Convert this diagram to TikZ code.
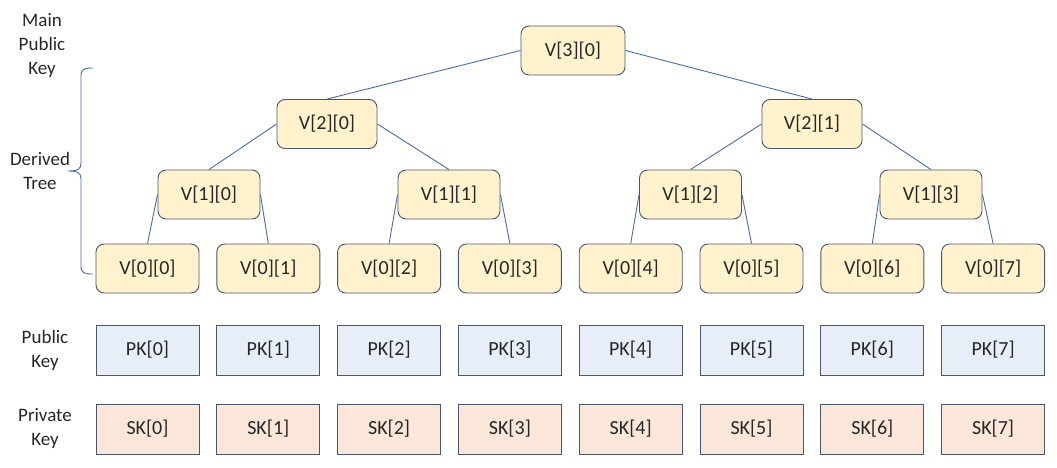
\documentclass[tikz,border=0pt]{standalone}
\usepackage{fontspec}
\setmainfont{Carlito}
\definecolor{vfill}{HTML}{FFF2CC}
\definecolor{pkfill}{HTML}{E7EEF8}
\definecolor{skfill}{HTML}{FBE6DA}
\definecolor{bord}{HTML}{4A566B}
\definecolor{edge}{HTML}{4A6AAE}
\definecolor{txt}{HTML}{262626}
\begin{document}
\begin{tikzpicture}[x=1pt,y=-1pt,
  vbox/.style={draw=bord,line width=0.9pt,fill=vfill,rounded corners=8pt,minimum width=103pt,minimum height=49pt,inner sep=0pt,text=txt,font=\fontsize{20}{22}\selectfont},
  pkbox/.style={draw=bord,line width=0.9pt,fill=pkfill,minimum width=103pt,minimum height=50pt,inner sep=0pt,text=txt,font=\fontsize{20}{22}\selectfont},
  skbox/.style={draw=bord,line width=0.9pt,fill=skfill,minimum width=103pt,minimum height=50pt,inner sep=0pt,text=txt,font=\fontsize{20}{22}\selectfont},
  lbl/.style={align=center,font=\fontsize{19}{24}\selectfont,text=txt},
  conn/.style={draw=edge,line width=0.9pt}]
\useasboundingbox (0,0) rectangle (1057,468);
% leaves
\foreach \i in {0,...,7}{
  \pgfmathsetmacro{\cx}{147.5+120.8*\i}
  \node[vbox] (v0\i) at (\cx,268.5) {V[0][\i]};
  \node[pkbox] (pk\i) at (\cx,350) {PK[\i]};
  \node[skbox] (sk\i) at (\cx,429) {SK[\i]};
}
\node[vbox,minimum width=102pt] (v10) at (209,194.5) {V[1][0]};
\node[vbox,minimum width=102pt] (v11) at (449,194.5) {V[1][1]};
\node[vbox,minimum width=102pt] (v12) at (690.5,194.5) {V[1][2]};
\node[vbox,minimum width=102pt] (v13) at (931,194.5) {V[1][3]};
\node[vbox,minimum width=100pt] (v20) at (327,124) {V[2][0]};
\node[vbox,minimum width=100pt] (v21) at (812,124) {V[2][1]};
\node[vbox,minimum width=104pt] (v30) at (573,50.5) {V[3][0]};
% edges
\draw[conn] (v30.west) -- (v20.north);
\draw[conn] (v30.east) -- (v21.north);
\draw[conn] (v20.west) -- (v10.north);
\draw[conn] (v20.east) -- (v11.north);
\draw[conn] (v21.west) -- (v12.north);
\draw[conn] (v21.east) -- (v13.north);
\draw[conn] (v10.west) -- (v00.north);
\draw[conn] (v10.east) -- (v01.north);
\draw[conn] (v11.west) -- (v02.north);
\draw[conn] (v11.east) -- (v03.north);
\draw[conn] (v12.west) -- (v04.north);
\draw[conn] (v12.east) -- (v05.north);
\draw[conn] (v13.west) -- (v06.north);
\draw[conn] (v13.east) -- (v07.north);
% labels
\node[lbl] (lmain) at (42,45) {Main\\Public\\Key};
\node[lbl] (lder) at (40,171) {Derived\\Tree};
\node[lbl] (lpub) at (45,350) {Public\\Key};
\node[lbl] (lpriv) at (45,428) {Private\\Key};
% brace
\coordinate (btop) at (93,68);
\coordinate (bbot) at (93,274);
\coordinate (btip) at (68,171);
\draw[conn] (btop) .. controls (84,68) and (81,69) .. (81,76) -- (81,163) .. controls (81,169) and (78,171) .. (btip)
  .. controls (78,171) and (81,173) .. (81,179) -- (81,266) .. controls (81,273) and (84,274) .. (bbot);
\end{tikzpicture}
\end{document}
